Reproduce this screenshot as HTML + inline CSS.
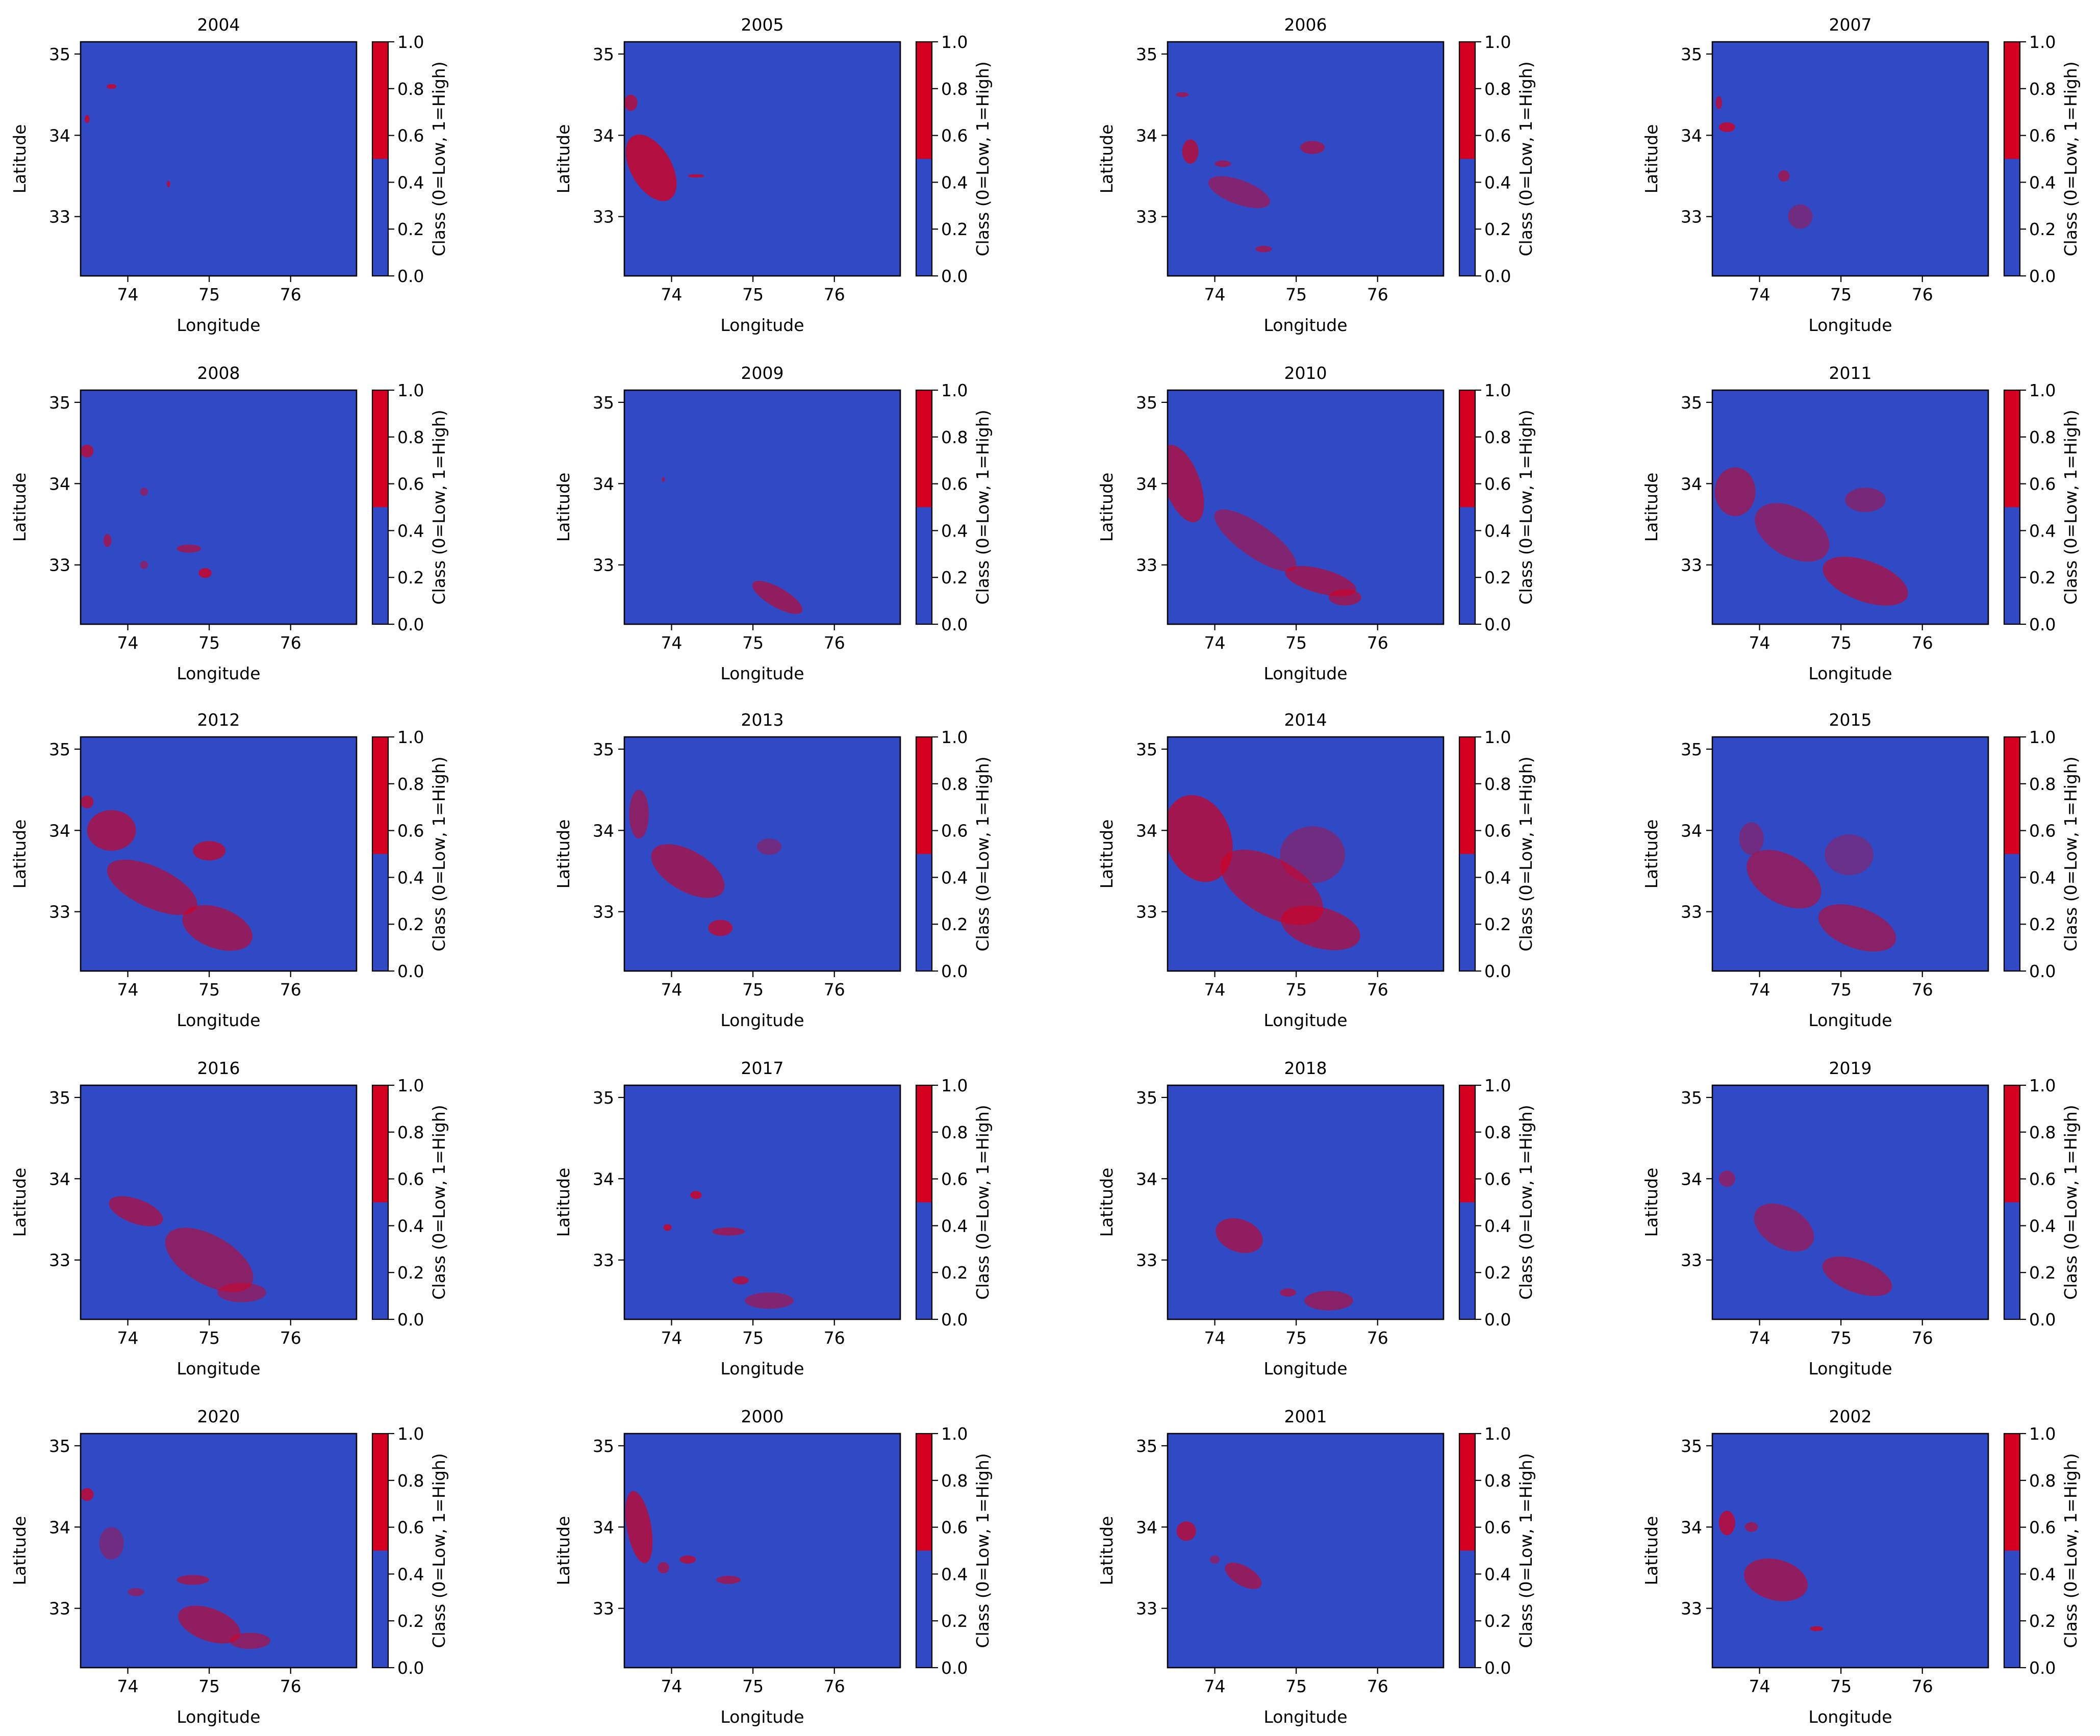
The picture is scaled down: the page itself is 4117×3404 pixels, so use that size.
<!DOCTYPE html>
<html><head><meta charset="utf-8"><style>
html,body{margin:0;padding:0;background:#fff}
svg{display:block}
text{font-family:"DejaVu Sans","Liberation Sans",sans-serif;fill:#000}
</style></head><body>
<svg id="fig" width="4117" height="3404" viewBox="0 0 4117 3404" xmlns="http://www.w3.org/2000/svg">
<rect width="4117" height="3404" fill="#fff"/>
</svg>
<script>
// Panel years in display order
const years = [2004,2005,2006,2007,2008,2009,2010,2011,2012,2013,2014,2015,2016,2017,2018,2019,2020,2000,2001,2002];
// Axis tick labels
const lonTicks = [74,75,76];
const latTicks = [33,34,35];
const cbTicks = [0.0,0.2,0.4,0.6,0.8,1.0];
const lonRange = [73.42,76.81];
const latRange = [32.27,35.15];
const classThreshold = 0.5;
// High-class patches per year: [lon, lat, rxDeg, ryDeg, rotationDeg, density]
const patches2004 = [[73.8,34.6,0.06,0.03,0,0.8],[73.5,34.2,0.03,0.05,0,0.8],[74.5,33.4,0.02,0.04,0,0.8]];
const patches2005 = [[73.75,33.6,0.25,0.45,-30,0.8],[73.5,34.4,0.08,0.1,0,0.7],[74.3,33.5,0.1,0.02,0,0.8]];
const patches2006 = [[73.7,33.8,0.1,0.15,0,0.7],[74.3,33.3,0.4,0.15,20,0.5],[75.2,33.85,0.15,0.08,0,0.6],[73.6,34.5,0.08,0.03,0,0.6],[74.6,32.6,0.1,0.04,0,0.6],[74.1,33.65,0.1,0.04,0,0.6]];
const patches2007 = [[73.6,34.1,0.1,0.06,0,0.8],[73.5,34.4,0.04,0.08,0,0.7],[74.3,33.5,0.07,0.07,0,0.6],[74.5,33.0,0.15,0.15,0,0.4]];
const patches2008 = [[73.5,34.4,0.08,0.08,0,0.7],[73.75,33.3,0.05,0.08,0,0.6],[74.75,33.2,0.15,0.05,0,0.6],[74.95,32.9,0.08,0.06,0,0.8],[74.2,33.9,0.05,0.05,0,0.5],[74.2,33.0,0.05,0.05,0,0.5]];
const patches2009 = [[75.3,32.6,0.35,0.12,30,0.6],[73.9,34.05,0.02,0.03,0,0.6]];
const patches2010 = [[73.6,34.0,0.22,0.5,-20,0.65],[74.5,33.3,0.6,0.2,35,0.5],[75.3,32.8,0.45,0.15,15,0.6],[75.6,32.6,0.2,0.1,0,0.6]];
const patches2011 = [[73.7,33.9,0.25,0.3,0,0.55],[74.4,33.4,0.5,0.3,30,0.5],[75.3,32.8,0.55,0.25,20,0.6],[75.3,33.8,0.25,0.15,0,0.45]];
const patches2012 = [[73.8,34.0,0.3,0.25,0,0.65],[74.3,33.3,0.6,0.25,25,0.6],[75.1,32.8,0.45,0.25,20,0.6],[75.0,33.75,0.2,0.12,0,0.7],[73.5,34.35,0.08,0.08,0,0.7]];
const patches2013 = [[73.6,34.2,0.12,0.3,0,0.55],[74.2,33.5,0.5,0.25,30,0.6],[74.6,32.8,0.15,0.1,0,0.7],[75.2,33.8,0.15,0.1,0,0.4]];
const patches2014 = [[73.8,33.9,0.4,0.55,-20,0.7],[74.7,33.3,0.7,0.35,30,0.6],[75.3,32.8,0.5,0.25,15,0.6],[75.2,33.7,0.4,0.35,0,0.4]];
const patches2015 = [[74.3,33.4,0.5,0.3,30,0.55],[75.2,32.8,0.5,0.25,20,0.55],[75.1,33.7,0.3,0.25,0,0.35],[73.9,33.9,0.15,0.2,0,0.4]];
const patches2016 = [[74.1,33.6,0.35,0.15,20,0.6],[75.0,33.0,0.6,0.3,30,0.55],[75.4,32.6,0.3,0.12,0,0.5]];
const patches2017 = [[74.3,33.8,0.07,0.05,0,0.8],[73.95,33.4,0.05,0.04,0,0.8],[74.7,33.35,0.2,0.05,0,0.6],[74.85,32.75,0.1,0.05,0,0.7],[75.2,32.5,0.3,0.1,0,0.5]];
const patches2018 = [[74.3,33.3,0.3,0.2,20,0.6],[75.4,32.5,0.3,0.12,0,0.55],[74.9,32.6,0.1,0.05,0,0.6]];
const patches2019 = [[74.3,33.4,0.4,0.25,30,0.5],[75.2,32.8,0.45,0.2,20,0.55],[73.6,34.0,0.1,0.1,0,0.5]];
const patches2020 = [[73.5,34.4,0.08,0.08,0,0.75],[73.8,33.8,0.15,0.2,0,0.4],[75.0,32.8,0.4,0.2,20,0.6],[75.5,32.6,0.25,0.1,0,0.55],[74.8,33.35,0.2,0.06,0,0.6],[74.1,33.2,0.1,0.05,0,0.5]];
const patches2000 = [[73.6,34.0,0.15,0.45,-10,0.7],[73.9,33.5,0.07,0.07,0,0.6],[74.2,33.6,0.1,0.05,0,0.7],[74.7,33.35,0.15,0.05,0,0.6]];
const patches2001 = [[73.65,33.95,0.12,0.12,0,0.7],[74.35,33.4,0.25,0.12,30,0.6],[74.0,33.6,0.06,0.05,0,0.5]];
const patches2002 = [[73.6,34.05,0.1,0.15,0,0.75],[74.2,33.35,0.4,0.25,15,0.6],[74.7,32.75,0.08,0.03,0,0.8],[73.9,34.0,0.08,0.06,0,0.6]];
const patchesByYear = {2004:patches2004,2005:patches2005,2006:patches2006,2007:patches2007,2008:patches2008,2009:patches2009,2010:patches2010,2011:patches2011,2012:patches2012,2013:patches2013,2014:patches2014,2015:patches2015,2016:patches2016,2017:patches2017,2018:patches2018,2019:patches2019,2020:patches2020,2000:patches2000,2001:patches2001,2002:patches2002};

const NS = "http://www.w3.org/2000/svg";
const svg = document.getElementById('fig');
const BLUE = "#2f4ac4", RED = "#d3001f";
const colX = [158,1224,2289,3357], rowY = [82,765,1445,2128,2811];
const AW = 541, AH = 459, CBOFF = 572, CBW = 31, FS = 33;
function mk(tag, attrs, parent){const e=document.createElementNS(NS,tag);for(const k in attrs)e.setAttribute(k,attrs[k]);(parent||svg).appendChild(e);return e;}
function txt(s, attrs, parent){const t=mk('text',attrs,parent);t.textContent=s;return t;}

years.forEach((yr, i) => {
  const L = colX[i%4], T = rowY[Math.floor(i/4)];
  const xs = v => L + (v-lonRange[0])/(lonRange[1]-lonRange[0])*AW;
  const ys = v => T + (latRange[1]-v)/(latRange[1]-latRange[0])*AH;
  const degX = AW/(lonRange[1]-lonRange[0]), degY = AH/(latRange[1]-latRange[0]);
  const g = mk('g',{});
  
  
  const clipId = 'clip'+yr;
  const cp = mk('clipPath',{id:clipId},g); mk('rect',{x:L,y:T,width:AW,height:AH},cp);
  const bg = mk('rect',{x:L,y:T,width:AW,height:AH,fill:BLUE},g);
  
  
  const pg = mk('g',{'clip-path':'url(#'+clipId+')'},g);
  patchesByYear[yr].forEach((p, j) => {
    const e = mk('ellipse',{cx:xs(p[0]),cy:ys(p[1]),rx:p[2]*degX,ry:p[3]*degY,transform:`rotate(${p[4]} ${xs(p[0])} ${ys(p[1])})`,fill:RED,'fill-opacity':p[5]},pg);
    
    
  });
  mk('rect',{x:L,y:T,width:AW,height:AH,fill:'none',stroke:'#000','stroke-width':2.6},g);
  const title = txt(String(yr),{x:L+AW/2,y:T-22,'text-anchor':'middle','font-size':FS},g);
  
  
  lonTicks.forEach(v => {
    mk('line',{x1:xs(v),x2:xs(v),y1:T+AH,y2:T+AH+12,stroke:'#000','stroke-width':2.2},g);
    const t = txt(String(v),{x:xs(v),y:T+AH+48,'text-anchor':'middle','font-size':FS},g);
    
    
  });
  latTicks.forEach(v => {
    mk('line',{x1:L-12,x2:L,y1:ys(v),y2:ys(v),stroke:'#000','stroke-width':2.2},g);
    const t = txt(String(v),{x:L-20,y:ys(v)+12,'text-anchor':'end','font-size':FS},g);
    
    
  });
  const xl = txt('Longitude',{x:L+AW/2,y:T+AH+108,'text-anchor':'middle','font-size':FS},g);
  
  
  const yl = txt('Latitude',{x:0,y:0,'text-anchor':'middle','font-size':FS,transform:`translate(${L-108},${T+AH/2}) rotate(-90)`},g);
  
  
  // colorbar
  const CL = L + CBOFF;
  const cs = v => T + (1-v)*AH;
  const cbLow = mk('rect',{x:CL,y:cs(classThreshold),width:CBW,height:cs(0)-cs(classThreshold),fill:BLUE},g);
  
  
  const cbHigh = mk('rect',{x:CL,y:cs(1),width:CBW,height:cs(classThreshold)-cs(1),fill:RED},g);
  
  
  mk('rect',{x:CL,y:T,width:CBW,height:AH,fill:'none',stroke:'#000','stroke-width':2.2},g);
  cbTicks.forEach(v => {
    mk('line',{x1:CL+CBW,x2:CL+CBW+12,y1:cs(v),y2:cs(v),stroke:'#000','stroke-width':2.2},g);
    const t = txt(v.toFixed(1),{x:CL+CBW+18,y:cs(v)+12,'font-size':FS},g);
    
    
  });
  const cl = txt('Class (0=Low, 1=High)',{x:0,y:0,'text-anchor':'middle','font-size':FS,transform:`translate(${CL+142},${T+AH/2}) rotate(-90)`},g);
  
  
});
</script>
</body></html>
